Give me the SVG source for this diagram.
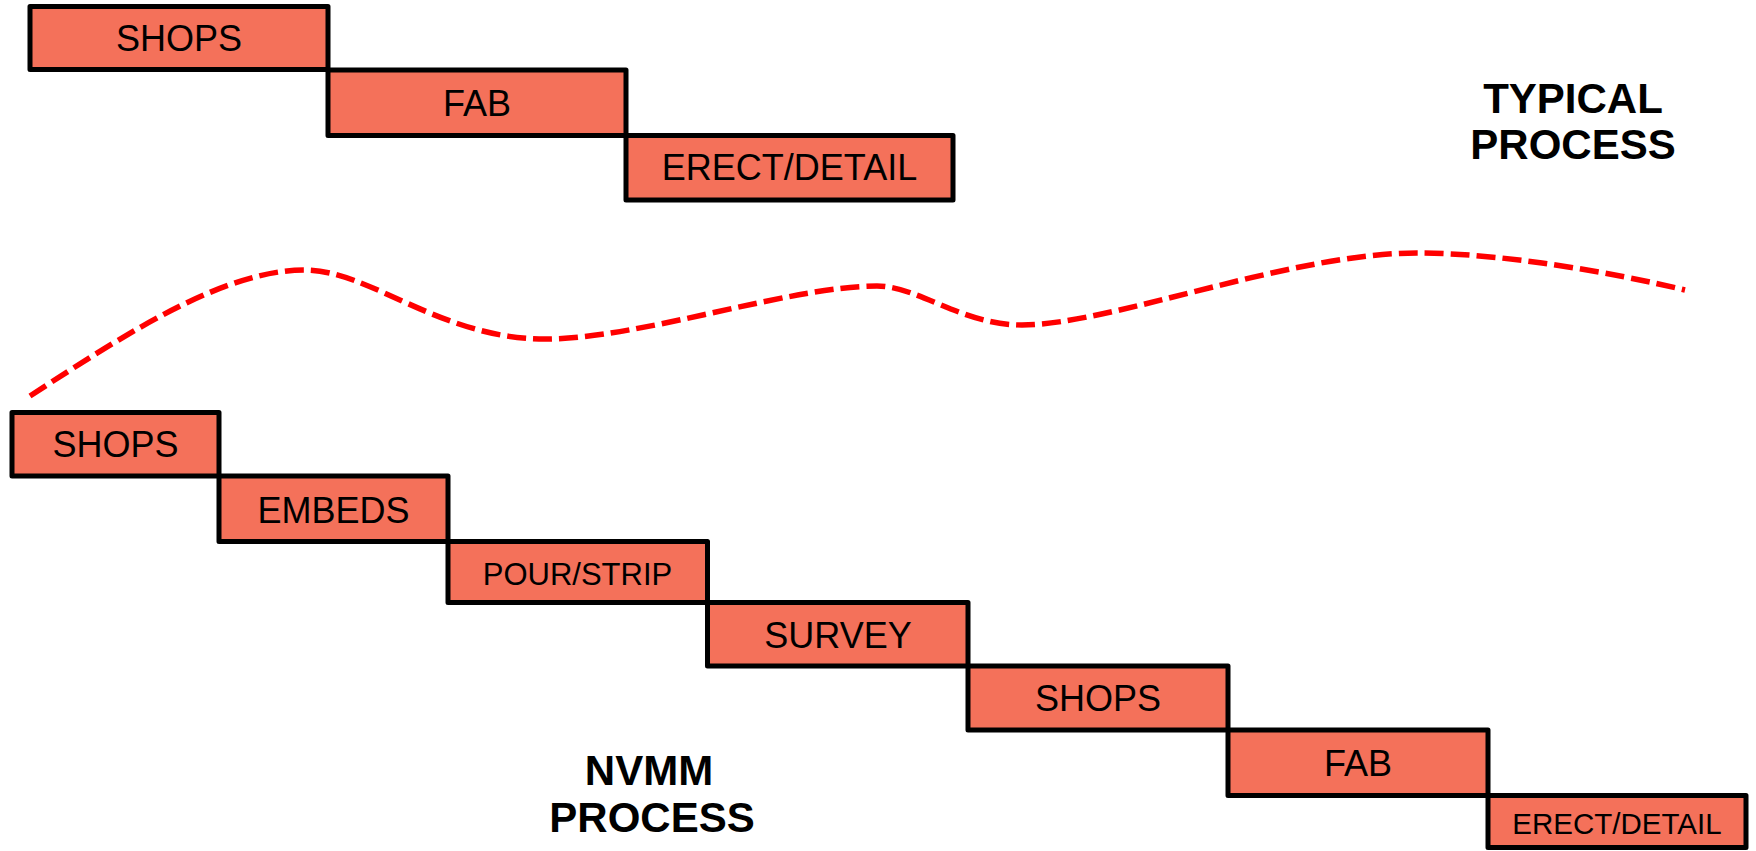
<svg xmlns="http://www.w3.org/2000/svg" width="1756" height="851" viewBox="0 0 1756 851">
<style>
.box{fill:#F4715A;stroke:#000;stroke-width:5;stroke-linejoin:round}
.lbl{font-family:"Liberation Sans",Arial,sans-serif;font-size:36px;fill:#000;text-anchor:middle}
.ttl{font-family:"Liberation Sans",Arial,sans-serif;font-size:42px;font-weight:bold;fill:#000;text-anchor:middle}
.dash{fill:none;stroke:#FF0000;stroke-width:5.5;stroke-dasharray:19 7}
</style>
<rect width="1756" height="851" fill="#fff"/>
<g id="connectors">
<path class="dash" d="M30,396 C130,331 225,270 305,270 C370,270 440,339 545,339 C640,339 790,286 877,286 C918,286 962,325 1022,325 C1110,325 1290,253 1417,253 C1500,253 1610,272 1685,290"/>
</g>
<g id="typical-shops"><rect class="box" x="30" y="6.5" width="298" height="63"/><text class="lbl" x="179" y="51">SHOPS</text></g>
<g id="typical-fab"><rect class="box" x="328" y="70" width="298" height="65.5"/><text class="lbl" x="477" y="116">FAB</text></g>
<g id="typical-erect"><rect class="box" x="626" y="135.5" width="327" height="64.5"/><text class="lbl" x="789.5" y="180">ERECT/DETAIL</text></g>
<g id="typical-label"><text class="ttl" x="1573" y="113">TYPICAL</text><text class="ttl" x="1573" y="159">PROCESS</text></g>
<g id="nvmm-shops"><rect class="box" x="12" y="412.5" width="207" height="63.5"/><text class="lbl" x="115.5" y="457">SHOPS</text></g>
<g id="nvmm-embeds"><rect class="box" x="219" y="476" width="229" height="65.5"/><text class="lbl" x="333.5" y="523">EMBEDS</text></g>
<g id="nvmm-pour"><rect class="box" x="448" y="541.5" width="259.5" height="61"/><text class="lbl" x="577.5" y="585" style="font-size:31px">POUR/STRIP</text></g>
<g id="nvmm-survey"><rect class="box" x="707.5" y="602.5" width="260.5" height="63.5"/><text class="lbl" x="838" y="648">SURVEY</text></g>
<g id="nvmm-shops2"><rect class="box" x="968" y="666" width="260" height="64"/><text class="lbl" x="1098" y="711">SHOPS</text></g>
<g id="nvmm-fab"><rect class="box" x="1228" y="730" width="260" height="65.5"/><text class="lbl" x="1358" y="776">FAB</text></g>
<g id="nvmm-erect"><rect class="box" x="1488" y="795.5" width="258" height="52"/><text class="lbl" x="1617" y="834" style="font-size:29.5px">ERECT/DETAIL</text></g>
<g id="nvmm-label"><text class="ttl" x="649" y="785">NVMM</text><text class="ttl" x="652" y="831.5">PROCESS</text></g>
</svg>
